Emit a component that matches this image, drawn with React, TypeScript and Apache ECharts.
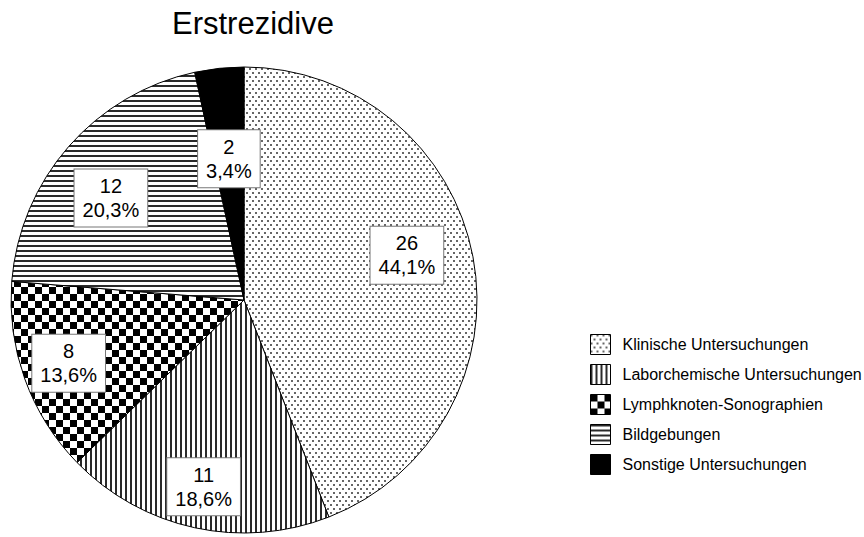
import React, { useEffect, useRef } from "react";
import * as echarts from "echarts";

const titleText = "Erstrezidive";
const categories = [
  "Klinische Untersuchungen",
  "Laborchemische Untersuchungen",
  "Lymphknoten-Sonographien",
  "Bildgebungen",
  "Sonstige Untersuchungen",
];
const values = [26, 11, 8, 12, 2];
const percentLabels = ["44,1%", "18,6%", "13,6%", "20,3%", "3,4%"];
const labelRadiusFactor = [0.725, 0.82, 0.8, 0.72, 0.61];
const labelAngleShiftDeg = [-4.7, 0, 0, -3.7, 0];

function makeCanvas(w: number, h: number, draw: (ctx: CanvasRenderingContext2D) => void) {
  const c = document.createElement("canvas");
  c.width = w;
  c.height = h;
  const ctx = c.getContext("2d")!;
  ctx.fillStyle = "#ffffff";
  ctx.fillRect(0, 0, w, h);
  draw(ctx);
  return c;
}

function patterns() {
  const dots = makeCanvas(6, 8, (ctx) => {
    ctx.fillStyle = "#666666";
    ctx.fillRect(0, 0, 2, 2);
    ctx.fillRect(3, 4, 2, 2);
  });
  const vlines = makeCanvas(5, 5, (ctx) => {
    ctx.fillStyle = "#2a2a2a";
    ctx.fillRect(0, 0, 2, 5);
  });
  const checker = makeCanvas(14, 14, (ctx) => {
    ctx.fillStyle = "#000000";
    ctx.fillRect(0, 0, 7, 7);
    ctx.fillRect(7, 7, 7, 7);
  });
  const hlines = makeCanvas(5, 5, (ctx) => {
    ctx.fillStyle = "#2a2a2a";
    ctx.fillRect(0, 0, 5, 2);
  });
  return [
    { image: dots, repeat: "repeat" },
    { image: vlines, repeat: "repeat" },
    { image: checker, repeat: "repeat" },
    { image: hlines, repeat: "repeat" },
    "#000000",
  ];
}

export default function App() {
  const ref = useRef<HTMLDivElement>(null);
  useEffect(() => {
    if (!ref.current) return;
    const chart = echarts.init(ref.current, undefined, { renderer: "svg" });
    const fills = patterns();
    const cx = 244;
    const cy = 300;
    const R = 233;
    const total = values.reduce((a, b) => a + b, 0);
    const mids: number[] = [];
    let acc = 0;
    values.forEach((v) => {
      mids.push(((acc + v / 2) / total) * Math.PI * 2);
      acc += v;
    });
    chart.setOption({
      animation: false,
      title: {
        text: titleText,
        left: 172,
        top: 8,
        padding: 0,
        textStyle: {
          fontFamily: "Liberation Sans, Arial, sans-serif",
          fontSize: 31,
          fontWeight: "normal",
          color: "#000",
        },
      },
      legend: {
        orient: "vertical",
        left: 590,
        top: 334,
        padding: 0,
        itemWidth: 20,
        itemHeight: 20,
        itemGap: 9,
        icon: "rect",
        data: categories,
        textStyle: {
          fontFamily: "Liberation Sans, Arial, sans-serif",
          fontSize: 16,
          color: "#000",
          padding: [0, 0, 0, 7],
        },
        itemStyle: { borderColor: "#000", borderWidth: 1 },
      },
      series: [
        {
          type: "pie",
          center: [cx, cy],
          radius: R,
          startAngle: 90,
          clockwise: true,
          silent: true,
          data: categories.map((name, i) => ({
            name,
            value: values[i],
            itemStyle: { color: fills[i] },
          })),
          itemStyle: { borderColor: "#000", borderWidth: 1 },
          labelLine: { show: false },
          label: {
            show: true,
            position: "inside",
            formatter: (p: any) => `${values[p.dataIndex]}\n${percentLabels[p.dataIndex]}`,
            fontFamily: "Liberation Sans, Arial, sans-serif",
            fontSize: 20,
            lineHeight: 24,
            color: "#000",
            align: "center",
            backgroundColor: "#fff",
            borderColor: "#777",
            borderWidth: 1,
            padding: [5, 8, 4, 8],
          },
          labelLayout: (params: any) => {
            const i = params.dataIndex;
            const a = mids[i] + (labelAngleShiftDeg[i] * Math.PI) / 180;
            const r = R * labelRadiusFactor[i];
            return {
              x: cx + r * Math.sin(a),
              y: cy - r * Math.cos(a),
              align: "center",
              verticalAlign: "middle",
            };
          },
        },
      ],
    });
    return () => chart.dispose();
  }, []);
  return (
    <div
      ref={ref}
      style={{ position: "fixed", left: 0, top: 0, width: 864, height: 537, background: "#fff" }}
    />
  );
}
